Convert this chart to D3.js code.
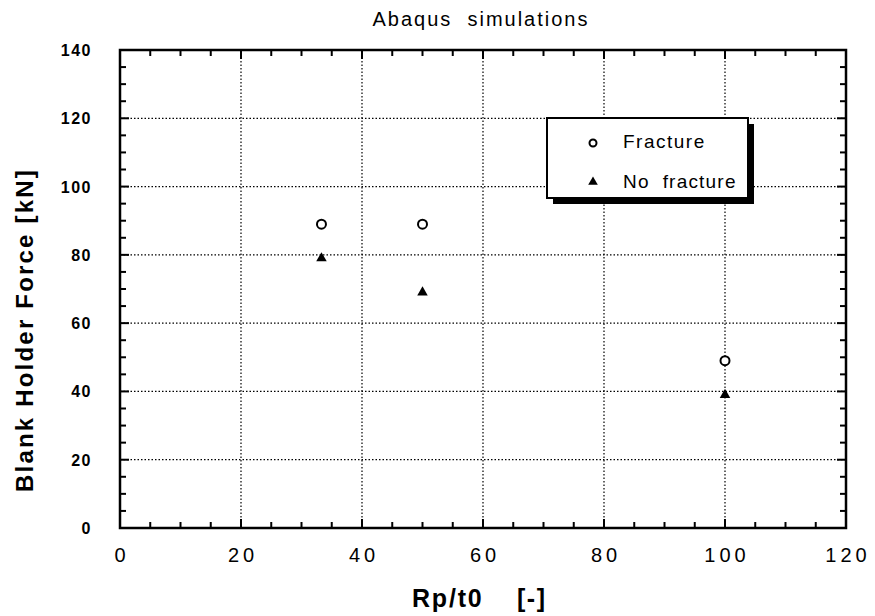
<!DOCTYPE html>
<html>
<head>
<meta charset="utf-8">
<script src="https://cdn.jsdelivr.net/npm/d3@7"></script>
<style>
  body { margin: 0; background: #fff; }
  text { font-family: "Liberation Sans", Arial, sans-serif; fill: #000; }
</style>
</head>
<body>
<script>
// data
const fractureX = [33.3, 50, 100];
const fractureY = [89, 89, 49];
const noFractureX = [33.3, 50, 100];
const noFractureY = [79, 69, 39];
const xTicks = [0, 20, 40, 60, 80, 100, 120];
const yTicks = [0, 20, 40, 60, 80, 100, 120, 140];

const width = 875, height = 616;
const margin = { left: 120, right: 29, top: 50, bottom: 88 };

const svg = d3.select("body").append("svg")
    .attr("width", width)
    .attr("height", height);

const x = d3.scaleLinear().domain([0, 120]).range([margin.left, width - margin.right]);
const y = d3.scaleLinear().domain([0, 140]).range([height - margin.bottom, margin.top]);

// dotted grid
const grid = svg.append("g")
    .attr("stroke", "#000")
    .attr("stroke-width", 1.2)
    .attr("stroke-dasharray", "1.5,2");
xTicks.slice(1, -1).forEach(v => {
    grid.append("line")
        .attr("x1", x(v)).attr("x2", x(v))
        .attr("y1", y(0)).attr("y2", y(140));
});
yTicks.slice(1, -1).forEach(v => {
    grid.append("line")
        .attr("x1", x(0)).attr("x2", x(120))
        .attr("y1", y(v)).attr("y2", y(v));
});

// inward ticks on all four sides
const minorX = d3.range(0, 121, 5);
const minorY = d3.range(0, 141, 5);
const ticks = svg.append("g").attr("stroke", "#000").attr("stroke-width", 2);
minorX.forEach(v => {
    const len = v % 20 === 0 ? 9 : 6;
    ticks.append("line").attr("x1", x(v)).attr("x2", x(v)).attr("y1", y(0)).attr("y2", y(0) - len);
    ticks.append("line").attr("x1", x(v)).attr("x2", x(v)).attr("y1", y(140)).attr("y2", y(140) + len);
});
minorY.forEach(v => {
    const len = v % 20 === 0 ? 9 : 6;
    ticks.append("line").attr("x1", x(0)).attr("x2", x(0) + len).attr("y1", y(v)).attr("y2", y(v));
    ticks.append("line").attr("x1", x(120)).attr("x2", x(120) - len).attr("y1", y(v)).attr("y2", y(v));
});

// frame
svg.append("rect")
    .attr("x", x(0)).attr("y", y(140))
    .attr("width", x(120) - x(0)).attr("height", y(0) - y(140))
    .attr("fill", "none").attr("stroke", "#000").attr("stroke-width", 2.5);

// tick labels (letter-spacing adds trailing space, so nudge with dx)
svg.append("g").selectAll("text").data(xTicks).join("text")
    .attr("x", d => x(d)).attr("y", y(0) + 34)
    .attr("dx", 2)
    .attr("text-anchor", "middle")
    .attr("font-size", 20)
    .attr("letter-spacing", 4)
    .text(d => d);
svg.append("g").selectAll("text").data(yTicks).join("text")
    .attr("x", x(0) - 28).attr("y", d => y(d) + 6)
    .attr("text-anchor", "end")
    .attr("font-size", 16)
    .attr("font-weight", "bold")
    .attr("letter-spacing", 1.5)
    .text(d => d);

// titles
svg.append("text")
    .attr("x", 481).attr("y", 26)
    .attr("text-anchor", "middle")
    .attr("font-size", 20)
    .attr("letter-spacing", 2)
    .style("white-space", "pre")
    .text("Abaqus  simulations");
svg.append("text")
    .attr("x", 412).attr("y", 607)
    .attr("font-size", 25)
    .attr("font-weight", "bold")
    .attr("letter-spacing", 1.8)
    .text("Rp/t0");
svg.append("text")
    .attr("x", 517).attr("y", 607)
    .attr("font-size", 25)
    .attr("font-weight", "bold")
    .attr("letter-spacing", 1.5)
    .text("[-]");
svg.append("text")
    .attr("transform", "translate(33,330) rotate(-90)")
    .attr("text-anchor", "middle")
    .attr("font-size", 24)
    .attr("font-weight", "bold")
    .attr("letter-spacing", 2.2)
    .text("Blank Holder Force [kN]");

// markers
const tri = d3.symbol().type(d3.symbolTriangle).size(48);
svg.append("g").selectAll("circle").data(fractureX).join("circle")
    .attr("cx", d => x(d)).attr("cy", (d, i) => y(fractureY[i]))
    .attr("r", 4.5)
    .attr("fill", "#fff").attr("stroke", "#000").attr("stroke-width", 2);
svg.append("g").selectAll("path").data(noFractureX).join("path")
    .attr("transform", (d, i) => `translate(${x(d)},${y(noFractureY[i])})`)
    .attr("d", tri)
    .attr("fill", "#000");

// legend with drop shadow
const lg = svg.append("g").attr("transform", "translate(547,118)");
lg.append("rect").attr("x", 6).attr("y", 6).attr("width", 201).attr("height", 80).attr("fill", "#000");
lg.append("rect").attr("x", 0).attr("y", 0).attr("width", 201).attr("height", 80)
    .attr("fill", "#fff").attr("stroke", "#000").attr("stroke-width", 2);
lg.append("circle").attr("cx", 46).attr("cy", 25).attr("r", 3.5)
    .attr("fill", "#fff").attr("stroke", "#000").attr("stroke-width", 2);
lg.append("path").attr("transform", "translate(46,64)").attr("d", d3.symbol().type(d3.symbolTriangle).size(40)).attr("fill", "#000");
lg.append("text").attr("x", 76).attr("y", 30).attr("font-size", 19).attr("letter-spacing", 1.5).text("Fracture");
lg.append("text").attr("x", 76).attr("y", 70).attr("font-size", 19).attr("letter-spacing", 1.2).style("white-space", "pre").text("No  fracture");
</script>
</body>
</html>
